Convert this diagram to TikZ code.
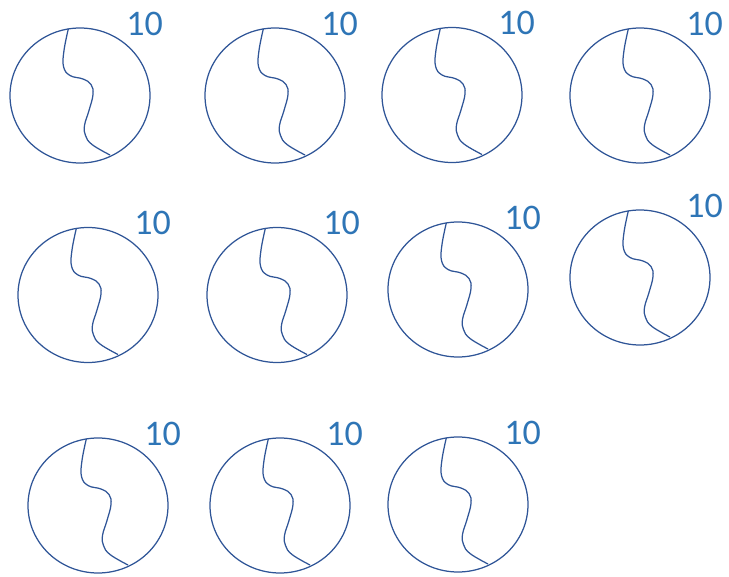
\documentclass[tikz,border=0pt]{standalone}
\usepackage{fontspec}
\setmainfont{Carlito}
\definecolor{ringblue}{RGB}{47,85,151}
\definecolor{numblue}{RGB}{46,117,182}
\tikzset{
  ring/.style={draw=ringblue, line width=1.25pt},
  crack/.style={draw=ringblue, line width=1.25pt},
  numlabel/.style={text=numblue, font=\fontsize{36}{40}\selectfont, inner sep=0pt, anchor=center},
  pics/cell/.style={code={
    \draw[ring] (0,0) ellipse [x radius=70, y radius=67.5];
    \draw[crack] plot[smooth, tension=0.7] coordinates {(-11.7,-66.5) (-16,-45) (-16.5,-29) (-10,-20) (3,-16.5) (11,-11) (13,-1) (9,15) (4.5,30) (5.5,40) (12,49) (30,59.5)};
    \node[numlabel] (-lab) at (64.5,-72) {10};
  }}
}
\begin{document}
\begin{tikzpicture}[x=1pt,y=-1pt]
\useasboundingbox (0,0) rectangle (729,577);
\pic (c1) at (80,95.5) {cell};
\pic (c2) at (275,95.5) {cell};
\pic (c3) at (452,95) {cell};
\pic (c4) at (640,95.5) {cell};
\pic (c5) at (88,295) {cell};
\pic (c6) at (277,295) {cell};
\pic (c7) at (458,289.5) {cell};
\pic (c8) at (640,277.5) {cell};
\pic (c9) at (98,505.5) {cell};
\pic (c10) at (280,505.5) {cell};
\pic (c11) at (458,504.5) {cell};
\end{tikzpicture}
\end{document}
